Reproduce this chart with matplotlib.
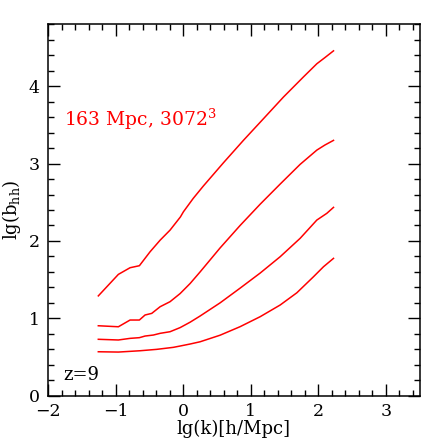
import matplotlib
matplotlib.use('Agg')
import matplotlib.pyplot as plt
from matplotlib.ticker import MultipleLocator

plt.rcParams['font.family'] = ['DejaVu Serif']
plt.rcParams['mathtext.fontset'] = 'dejavuserif'

# lg(k) sample points and lg(b_hh) for the four curves (top to bottom)
lgk_1 = [-1.255, -0.958, -0.785, -0.647, -0.489, -0.34, -0.193, -0.04, 0.005, 0.15, 0.3,
         0.597, 0.893, 1.19, 1.486, 1.782, 1.98, 2.1, 2.227]
lgb_1 = [1.29, 1.568, 1.654, 1.68, 1.86, 2.01, 2.14, 2.31, 2.377, 2.55, 2.71,
         3.01, 3.30, 3.58, 3.86, 4.12, 4.29, 4.37, 4.457]

lgk_2 = [-1.255, -0.958, -0.785, -0.647, -0.563, -0.464, -0.34, -0.193, -0.044, 0.104,
         0.252, 0.548, 0.844, 1.141, 1.437, 1.733, 1.98, 2.1, 2.227]
lgb_2 = [0.904, 0.891, 0.978, 0.978, 1.043, 1.064, 1.15, 1.215, 1.32, 1.45,
         1.60, 1.91, 2.20, 2.475, 2.735, 2.99, 3.174, 3.24, 3.30]

lgk_3 = [-1.255, -0.958, -0.785, -0.647, -0.563, -0.44, -0.34, -0.193, -0.044, 0.104,
         0.252, 0.548, 0.844, 1.141, 1.437, 1.733, 1.98, 2.128, 2.227]
lgb_3 = [0.729, 0.72, 0.741, 0.75, 0.771, 0.784, 0.806, 0.827, 0.88, 0.95,
         1.03, 1.20, 1.39, 1.585, 1.796, 2.034, 2.27, 2.357, 2.434]

lgk_4 = [-1.255, -0.958, -0.637, -0.39, -0.144, -0.044, 0.104, 0.252, 0.548, 0.844,
         1.141, 1.437, 1.684, 1.93, 2.079, 2.227]
lgb_4 = [0.568, 0.564, 0.581, 0.599, 0.625, 0.642, 0.668, 0.697, 0.782, 0.892,
         1.021, 1.172, 1.33, 1.537, 1.667, 1.775]

fig = plt.figure(figsize=(4.43, 4.43), dpi=100)
ax = fig.add_axes([48 / 443, 1 - 395.7 / 443, 371.5 / 443, 371.4 / 443])

for xs, ys in [(lgk_1, lgb_1), (lgk_2, lgb_2), (lgk_3, lgb_3), (lgk_4, lgb_4)]:
    ax.plot(xs, ys, color='red', lw=1.1)

ax.set_xlim(-2, 3.5)
ax.set_ylim(0, 4.8)
ax.xaxis.set_major_locator(MultipleLocator(1))
ax.xaxis.set_minor_locator(MultipleLocator(0.2))
ax.yaxis.set_major_locator(MultipleLocator(1))
ax.yaxis.set_minor_locator(MultipleLocator(0.2))
ax.tick_params(which='both', direction='in', top=True, right=True, width=1,
               labelsize=12.5, pad=6)
ax.tick_params(axis='x', which='major', pad=5)
ax.tick_params(which='major', length=8.5)
ax.tick_params(which='minor', length=4.3)
for s in ax.spines.values():
    s.set_linewidth(1.1)

ax.set_xlabel('lg(k)[h/Mpc]', fontsize=13, labelpad=0)
ax.set_ylabel(r'lg(b$_{\rm hh}$)', fontsize=13, labelpad=4)

ax.text(0.042, 0.745, r'163 Mpc, 3072$^{\rm 3}$', transform=ax.transAxes,
        color='red', fontsize=13.5, va='center')
ax.text(0.042, 0.055, 'z=9', transform=ax.transAxes, fontsize=13, va='center')

fig.savefig('out.png', dpi=100)
